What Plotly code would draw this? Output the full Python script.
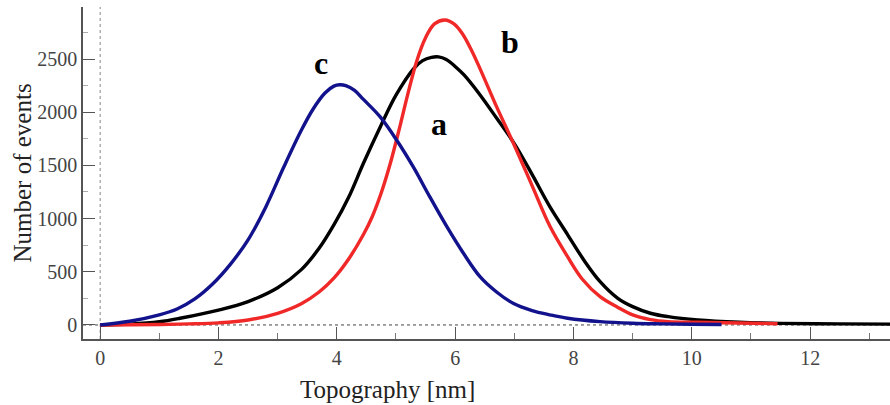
import plotly.graph_objects as go

# Curve a (black)
a_x = [0, 0.5, 1.0, 1.35, 2.0, 2.5, 3.0, 3.4, 3.7, 3.95, 4.2, 4.45, 4.75, 5.0, 5.3, 5.45,
       5.6, 5.72, 5.85, 6.0, 6.15, 6.4, 6.7, 7.0, 7.3, 7.6, 7.9, 8.2, 8.45, 8.75, 9.0, 9.3,
       9.6, 10.1, 10.8, 11.5, 12.5, 13.4]
a_y = [0, 8, 30, 63, 140, 220, 350, 520, 720, 940, 1200, 1520, 1880, 2160, 2410, 2485,
       2516, 2520, 2495, 2430, 2350, 2178, 1945, 1705, 1415, 1112, 850, 590, 407, 250, 172, 110,
       78, 47, 25, 15, 10, 8]

# Curve b (red)
b_x = [0, 1.0, 1.5, 2.0, 2.5, 3.0, 3.4, 3.7, 3.95, 4.2, 4.45, 4.6, 4.75, 4.9, 5.05, 5.2, 5.35,
       5.5, 5.65, 5.83, 5.98, 6.12, 6.27, 6.42, 6.7, 7.0, 7.3, 7.6, 7.9, 8.15, 8.45, 8.75,
       9.0, 9.3, 9.6, 10.1, 10.8, 11.45]
b_y = [0, 5, 10, 20, 47, 110, 200, 310, 440, 620, 850, 1020, 1240, 1510, 1830, 2170, 2480,
       2700, 2830, 2867, 2830, 2740, 2590, 2410, 2052, 1690, 1310, 930, 642, 430, 266, 165,
       94, 50, 31, 25, 18, 12]

# Curve c (blue)
c_x = [0, 0.5, 1.0, 1.3, 1.6, 1.9, 2.2, 2.5, 2.8, 3.1, 3.4, 3.6, 3.8, 3.95,
       4.05, 4.15, 4.3, 4.45, 4.73, 5.01, 5.29, 5.57, 5.86, 6.14, 6.42, 6.7, 6.98, 7.3, 7.6,
       7.9, 8.45, 9.0, 9.5, 10.0, 10.5]
c_y = [0, 35, 95, 150, 245, 385, 570, 800, 1110, 1480, 1830, 2030, 2180, 2245,
       2258, 2250, 2205, 2120, 1958, 1739, 1488, 1206, 924, 674, 454, 310, 204, 135, 95,
       63, 31, 16, 10, 6, 4]

x_ticks = [0, 2, 4, 6, 8, 10, 12]
y_ticks = [0, 500, 1000, 1500, 2000, 2500]

FONT = "Liberation Serif, Times New Roman, serif"
AX = "#555555"

fig = go.Figure()
for xs, ys, col in [(a_x, a_y, "#000000"), (b_x, b_y, "#f02828"), (c_x, c_y, "#12128c")]:
    fig.add_trace(go.Scatter(x=xs, y=ys, mode="lines",
                             line=dict(color=col, width=3.4, shape="spline", smoothing=1.0),
                             showlegend=False, hoverinfo="skip"))

fig.add_shape(type="line", xref="x", yref="paper", x0=0, x1=0, y0=0, y1=1,
              line=dict(color="#888888", width=1, dash="dot"), layer="below")
fig.add_shape(type="line", xref="paper", yref="y", x0=0, x1=1, y0=0, y1=0,
              line=dict(color="#444444", width=1, dash="dot"), layer="below")

fig.update_xaxes(range=[-0.29, 13.35], tickvals=x_ticks, ticks="inside", ticklen=12,
                 tickwidth=1.3, tickcolor=AX, showline=True, linecolor=AX, linewidth=1.5,
                 showgrid=False, zeroline=False,
                 minor=dict(dtick=1, tick0=0, ticks="inside", ticklen=6, tickcolor="#777777"),
                 tickfont=dict(family=FONT, size=20, color="#444444"))
fig.update_yaxes(range=[-132, 2989], tickvals=y_ticks, ticks="inside", ticklen=12,
                 tickwidth=1.3, tickcolor=AX, showline=True, linecolor=AX, linewidth=1.5,
                 showgrid=False, zeroline=False,
                 minor=dict(dtick=250, tick0=0, ticks="inside", ticklen=5, tickcolor="#aaaaaa"),
                 tickfont=dict(family=FONT, size=20, color="#444444"))

fig.add_annotation(text="Topography [nm]", xref="x", yref="paper", x=4.86, y=-0.151,
                   showarrow=False, xanchor="center", yanchor="middle",
                   font=dict(family=FONT, size=25, color="#222222"))
fig.add_annotation(text="Number of events", xref="paper", yref="paper", x=-0.075, y=0.5,
                   textangle=-90, showarrow=False, xanchor="center", yanchor="middle",
                   font=dict(family=FONT, size=25, color="#222222"))

for t, x, y in [("c", 3.74, 2460), ("b", 6.93, 2660), ("a", 5.73, 1885)]:
    fig.add_annotation(text="<b>%s</b>" % t, x=x, y=y, showarrow=False,
                       xanchor="center", yanchor="middle",
                       font=dict(family=FONT, size=32, color="#000000"))

fig.update_layout(width=890, height=405, margin=dict(l=83, r=0, t=7, b=66),
                  plot_bgcolor="white", paper_bgcolor="white")

fig.write_html("out.html")
